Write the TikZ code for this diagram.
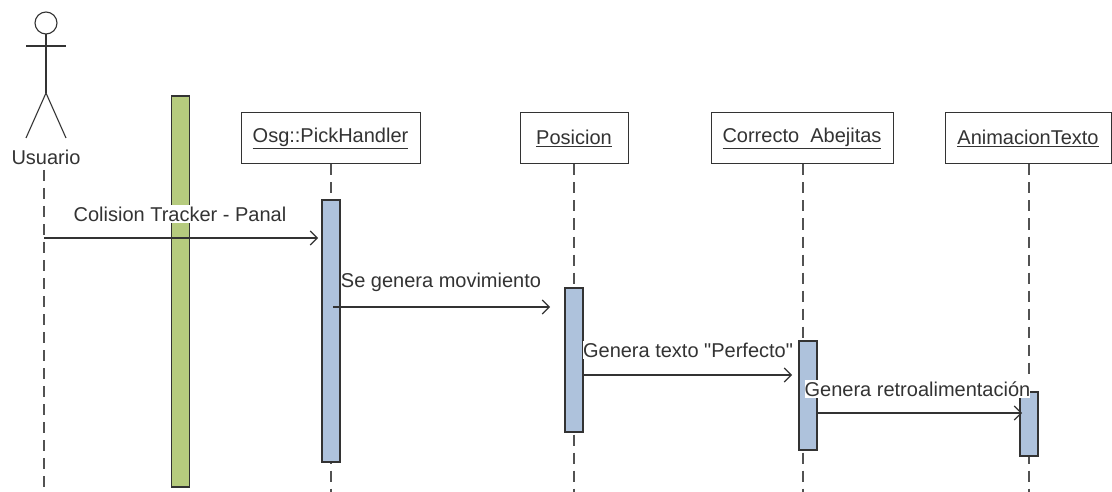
\documentclass[tikz,border=0pt]{standalone}
\usepackage{fontspec}
\newfontfamily\diagramFont{Liberation Sans}
\usetikzlibrary{arrows.meta}
\definecolor{barBlue}{HTML}{AEC2DC}
\definecolor{barGreen}{HTML}{B6CB7E}
\definecolor{inkGray}{HTML}{333333}
\tikzset{
    objBox/.style={draw=inkGray, line width=1pt, fill=white, inner sep=0pt, text=inkGray},
    actBar/.style={draw=inkGray, line width=1.1pt, inner sep=0pt},
    lifeLine/.style={draw=inkGray!85, line width=1.2pt, dash pattern=on 11pt off 7pt},
    msgArrow/.style={draw=inkGray, line width=1.1pt, -{Straight Barb[length=7pt,width=14pt]}},
    msgLabel/.style={fill=white, inner xsep=0pt, inner ysep=2pt, text=inkGray},
}
\begin{document}
\begin{tikzpicture}[x=1pt, y=-1pt, font=\diagramFont\fontsize{20}{22}\selectfont]
    \useasboundingbox (0,0) rectangle (1112,492);

    % Define the ends of the lifelines
    \coordinate (usuarioTop) at (44,170);
    \coordinate (usuarioEnd) at (44,492);
    \coordinate (osgEnd) at (331,492);
    \coordinate (posicionEnd) at (574,492);
    \coordinate (correctoEnd) at (803,492);
    \coordinate (animacionEnd) at (1029,492);

    % Draw the actor
    \draw[line width=1.1pt, inkGray] (46,23) circle (11);
    \coordinate (neck) at (46,34);
    \coordinate (hip) at (46,93);
    \coordinate (handL) at (26,46);
    \coordinate (handR) at (66,46);
    \coordinate (footL) at (26,138);
    \coordinate (footR) at (66,138);
    \draw[line width=1.1pt, inkGray] (neck)--(hip);
    \draw[line width=1.1pt, inkGray] (handL)--(handR);
    \draw[line width=1.1pt, inkGray] (footL)--(hip)--(footR);
    \node[text=inkGray, inner sep=0pt] (usuario) at (46,157) {Usuario};

    % Draw the green bar
    \node[actBar, fill=barGreen, minimum width=18pt, minimum height=391pt] (greenBar) at (180.5,291.5) {};

    % Draw the objects
    \node[objBox, minimum width=179pt, minimum height=51pt] (osg) at (330.5,138.5) {\underline{Osg::PickHandler}};
    \node[objBox, minimum width=108pt, minimum height=51pt] (posicion) at (574,138.5) {\underline{Posicion}};
    \node[objBox, minimum width=182pt, minimum height=51pt] (correcto) at (802,138.5) {\underline{Correcto\ \ Abejitas}};
    \node[objBox, minimum width=166pt, minimum height=51pt] (animacion) at (1028,138.5) {\underline{AnimacionTexto}};

    % Draw the lifelines
    \draw[lifeLine] (usuarioTop)--(usuarioEnd);
    \draw[lifeLine] (osgEnd |- osg.south)--(osgEnd);
    \draw[lifeLine] (posicionEnd |- posicion.south)--(posicionEnd);
    \draw[lifeLine] (correctoEnd |- correcto.south)--(correctoEnd);
    \draw[lifeLine] (animacionEnd |- animacion.south)--(animacionEnd);

    % Draw the activation bars
    \node[actBar, fill=barBlue, minimum width=18pt, minimum height=262pt] (osgBar) at (331,331) {};
    \node[actBar, fill=barBlue, minimum width=18pt, minimum height=144pt] (posicionBar) at (574,360) {};
    \node[actBar, fill=barBlue, minimum width=18pt, minimum height=109pt] (correctoBar) at (808,395.5) {};
    \node[actBar, fill=barBlue, minimum width=18pt, minimum height=64pt] (animacionBar) at (1029,424) {};

    % Ends of the messages
    \coordinate (colisionStart) at (44,238);
    \coordinate (colisionEnd) at (318,238);
    \coordinate (movimientoStart) at (333,307);
    \coordinate (movimientoEnd) at (550,307);
    \coordinate (perfectoStart) at (583,375);
    \coordinate (perfectoEnd) at (792,375);
    \coordinate (retroStart) at (817,413);
    \coordinate (retroEnd) at (1022,413);

    % Draw the messages
    \draw[msgArrow] (colisionStart)--(colisionEnd);
    \draw[msgArrow] (movimientoStart)--(movimientoEnd);
    \draw[msgArrow] (perfectoStart)--(perfectoEnd);
    \draw[msgArrow] (retroStart)--(retroEnd);

    % Label the messages
    \node[msgLabel] (colisionLabel) at (180,214) {Colision Tracker - Panal};
    \node[msgLabel] (movimientoLabel) at (441,282) {Se genera movimiento};
    \node[msgLabel] (perfectoLabel) at (688,350) {Genera texto "Perfecto"};
    \node[msgLabel] (retroLabel) at (917.5,389) {Genera retroalimentación};
\end{tikzpicture}
\end{document}
